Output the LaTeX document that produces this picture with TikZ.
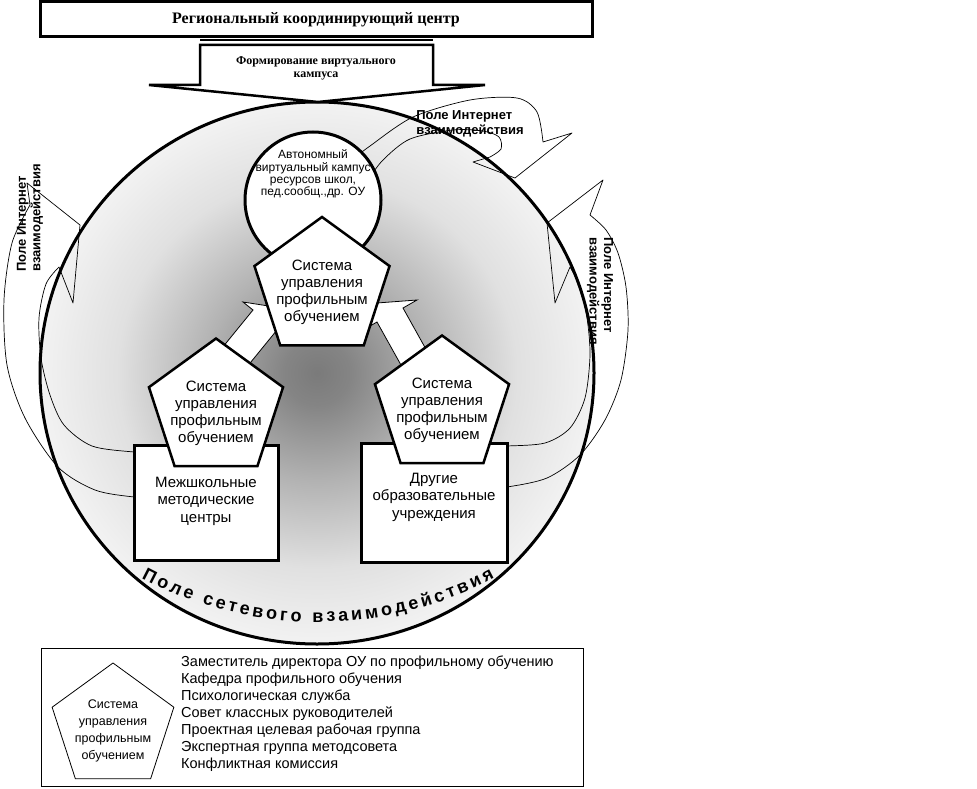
\documentclass[tikz,border=0pt]{standalone}
\usepackage{fontspec}
\setmainfont{Liberation Sans}
\newfontfamily\rcFont{Liberation Serif}
\usetikzlibrary{shapes.geometric,decorations.text}

\pgfdeclareradialshading{netShade}{\pgfpoint{0bp}{0bp}}{color(0bp)=(black!52); color(3bp)=(black!48); color(10bp)=(black!30); color(18bp)=(black!12); color(25bp)=(black!5); color(27bp)=(white); color(50bp)=(white)}

\tikzset{
	thickLine/.style = {line width=3pt},
	rcBox/.style = {draw, thickLine, fill=white, font=\rcFont\bfseries\fontsize{16}{18}\selectfont},
	sysPent/.style = {draw, line width=2.5pt, fill=white, regular polygon, regular polygon sides=5, inner sep=0pt, outer sep=0pt},
	sysText/.style = {align=center, font=\fontsize{15}{17}\selectfont},
	legendPent/.style = {draw, line width=0.8pt, regular polygon, regular polygon sides=5, inner sep=0pt, outer sep=0pt},
	legendSysText/.style = {align=center, font=\fontsize{12.5}{16.8}\selectfont},
	unitBox/.style = {draw, thickLine, fill=white},
	unitText/.style = {align=center, font=\fontsize{15}{17.5}\selectfont},
	fieldLabel/.style = {align=left, font=\bfseries\fontsize{13}{14.5}\selectfont},
	loopArrow/.style = {line width=0.7pt, line join=round},
	liftArrow/.style = {draw, line width=0.8pt, fill=white},
	legendItem/.style = {anchor=base west, inner sep=0pt, font=\fontsize{14.5}{17}\selectfont},
}

% pentagon "Система управления профильным обучением"
\newcommand{\sysNode}[4]{
	\node[sysPent, minimum size=#4] (#1) at (#2, #3) {};
	\node[sysText] (#1Text) at ([yshift=-4pt]#1.center) {Система\\управления\\профильным\\обучением};
}
\newcommand{\legendItem}[3]{
	\node[legendItem] (#1) at (181, #2) {#3};
}

% curved arrows "Поле Интернет взаимодействия"
\newcommand{\leftLoopPath}{
	plot[smooth] coordinates {(150,497) (134,497) (95,490) (58,467) (25,418) (7,365) (4,300) (12,243) (30,205)}
	-- (27,183) -- (80,225) -- (73,303) -- (59,267)
	-- plot[smooth] coordinates {(59,267) (46,284) (39,318) (41,358) (50,395) (64,425) (92,446) (134,452) (150,452)}
	-- cycle
}
\newcommand{\rightLoopPath}{
	plot[smooth] coordinates {(490,487) (507,487) (547,478) (580,455) (605,420) (621,380) (628,330) (626,287) (618,253) (606,230) (590,215)}
	-- (603,180) -- (547,223) -- (555,303) -- (570,267)
	-- plot[smooth] coordinates {(570,267) (580,287) (587,318) (590,355) (585,398) (570,428) (545,443) (507,446) (490,446)}
	-- cycle
}
\newcommand{\topLoopPath}{
	plot[smooth] coordinates {(352,160) (370,146) (413,117) (470,100) (517,98) (537,112) (543,142)}
	-- (572,133) -- (515,178) -- (473,162) -- (490,157)
	-- plot[smooth] coordinates {(490,157) (501,149) (499,137) (483,131) (453,130) (410,139) (383,160) (368,180)}
	-- cycle
}

\begin{document}
\begin{tikzpicture}[x=1pt, y=-1pt]
	\fill[white] (0,0) rectangle (977,789);
	\useasboundingbox (0,0) rectangle (977,789);

	% arrows behind the field
	\fill[white] \leftLoopPath;
	\fill[white] \rightLoopPath;
	\fill[white] \topLoopPath;

	% field of network interaction
	\shade[shading=netShade] (317,373) ellipse [x radius=277, y radius=271];
	\draw[thickLine] (317,373) ellipse [x radius=277, y radius=271];

	\draw[loopArrow] \leftLoopPath;
	\draw[loopArrow] \rightLoopPath;
	\draw[loopArrow] \topLoopPath;

	\path[decorate, decoration={text along path, text align=fit to path,
		text={|\bfseries\fontsize{18}{18}\selectfont|Поле сетевого взаимодействия}}]
		(141.5,578) arc[start angle=118, end angle=62, radius=376];

	\node[fieldLabel, rotate=90] (leftLabel) at (30,218) {Поле Интернет\\взаимодействия};
	\node[fieldLabel, rotate=-90] (rightLabel) at (600,291) {Поле Интернет\\взаимодействия};
	\node[fieldLabel] (topLabel) at (470,124) {Поле Интернет\\взаимодействия};

	% virtual campus
	\node[draw, thickLine, fill=white, circle, minimum size=136pt, inner sep=0pt] (campus) at (313,200) {};
	\node[align=center, font=\fontsize{12}{12.4}\selectfont] (campusText) at (313,174) {Автономный\\виртуальный кампус\\ресурсов школ,\\пед.сообщ.,др. ОУ};

	% regional centre
	\node[rcBox, minimum width=552pt, minimum height=35pt] (rcCenter) at (316,19.5) {Региональный координирующий центр};
	\draw[line width=2.5pt] (200,40) -- (433,40);
	\draw[line width=2.5pt, fill=white] (200,45) -- (433,45) -- (433,85) -- (485,85) -- (318,102) -- (149,85) -- (200,85) -- cycle;
	\node[align=center, font=\rcFont\bfseries\fontsize{12}{13}\selectfont] (campusForm) at (316,68) {Формирование виртуального\\кампуса};

	% arrows up to the centre
	\path[liftArrow] (209,364) -- (253,310) -- (243,302) -- (275,307) -- (287,338) -- (277,330) -- (233,384) -- cycle;
	\path[liftArrow] (437,369) -- (403,308) -- (417,300) -- (377,303) -- (363,330) -- (377,322) -- (411,383) -- cycle;

	\sysNode{sysTop}{322}{288}{142pt}

	\node[unitBox, minimum width=144pt, minimum height=115pt] (interSchool) at (206,502.5) {};
	\node[unitText] (interSchoolText) at (206,501) {Межшкольные\\методические\\центры};
	\node[unitBox, minimum width=146pt, minimum height=119pt] (otherEdu) at (434,502.5) {};
	\node[unitText] (otherEduText) at (434,497) {Другие\\образовательные\\учреждения};

	\sysNode{sysLeft}{216}{409}{141pt}
	\sysNode{sysRight}{442}{406}{141pt}

	% legend
	\node[draw, line width=0.8pt, minimum width=542pt, minimum height=138pt] (legend) at (312,717) {};
	\node[legendPent, minimum size=128pt] (legendSys) at (113,727) {};
	\node[legendSysText] (legendSysText) at ([yshift=-4pt]legendSys.center) {Система\\управления\\профильным\\обучением};
	\legendItem{itemDeputy}{666}{Заместитель директора ОУ по профильному обучению}
	\legendItem{itemChair}{683}{Кафедра профильного обучения}
	\legendItem{itemPsych}{700}{Психологическая служба}
	\legendItem{itemTutors}{717}{Совет классных руководителей}
	\legendItem{itemProject}{734}{Проектная целевая рабочая группа}
	\legendItem{itemExpert}{751}{Экспертная группа методсовета}
	\legendItem{itemConflict}{768}{Конфликтная комиссия}
\end{tikzpicture}
\end{document}
